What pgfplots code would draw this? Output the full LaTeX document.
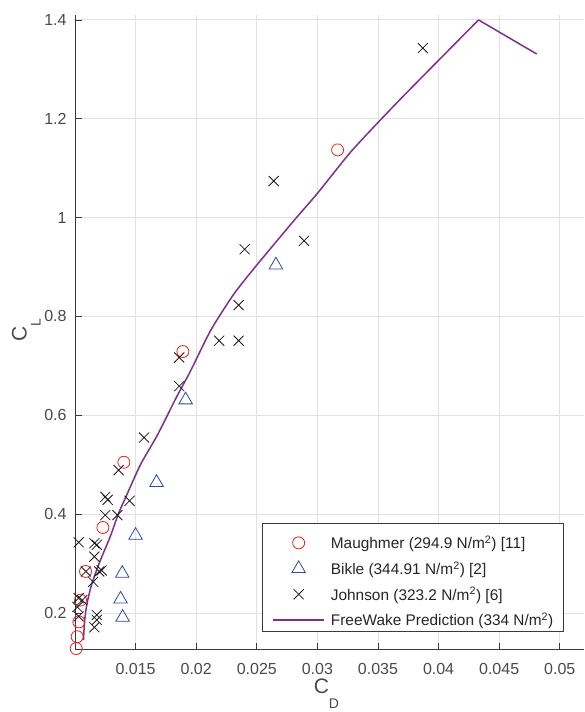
\documentclass[border=0pt]{standalone}
\usepackage{fontspec}
\setmainfont{Liberation Sans}
\usepackage{pgfplots}
\pgfplotsset{compat=1.18}

\definecolor{mred}{HTML}{FF1A1A}
\definecolor{mblue}{HTML}{2E4BA8}
\definecolor{mpurple}{HTML}{7E2F8E}
\definecolor{axgray}{HTML}{3A3A3A}
\definecolor{txtgray}{HTML}{4A4A4A}
\definecolor{gridgray}{HTML}{E2E2E2}

\pgfplotsset{
  markleg/.style={legend image code/.code={%
      \path (0pt,0pt) (51.6pt,0pt);
      \draw[##1] plot coordinates {(25.8pt,-4.15pt)};}},
  lineleg/.style={legend image code/.code={%
      \draw[##1] (0pt,-4.15pt) -- (51.6pt,-4.15pt);}},
}

\begin{document}
\begin{tikzpicture}
\begin{axis}[
  scale only axis,
  width=509pt, height=634.3pt,
  xmin=0.01, xmax=0.052,
  ymin=0.1265, ymax=1.41,
  axis lines*=left,
  axis line style={axgray, line width=0.8pt},
  tick style={axgray, line width=0.8pt},
  major tick length=6.5pt,
  tick align=inside,
  scaled x ticks=false,
  scaled y ticks=false,
  xtick={0.015,0.02,0.025,0.03,0.035,0.04,0.045,0.05},
  xticklabels={0.015,0.02,0.025,0.03,0.035,0.04,0.045,0.05},
  ytick={0.2,0.4,0.6,0.8,1,1.2,1.4},
  yticklabels={0.2,0.4,0.6,0.8,1,1.2,1.4},
  grid=major,
  major grid style={gridgray, line width=0.9pt},
  ticklabel style={font=\fontsize{16}{19}\selectfont, text=txtgray},
  xticklabel style={anchor=north, inner sep=0pt, yshift=-13.4pt},
  yticklabel style={anchor=east, inner sep=0pt, xshift=-8.3pt},
  xlabel={C\raisebox{-15pt}{\fontsize{14}{14}\selectfont D}},
  ylabel={C\raisebox{-14pt}{\fontsize{14}{14}\selectfont L}},
  label style={font=\fontsize{21}{24}\selectfont, text=txtgray},
  xlabel style={at={(axis description cs:0.494,-0.0694)}, anchor=base},
  ylabel style={at={(axis description cs:-0.0949,0.503)}, anchor=base},
  legend cell align=left,
  legend style={at={(0.3668,0.0277)}, anchor=south west,
    draw=axgray, line width=0.8pt, fill=white,
    inner xsep=10pt, inner ysep=5.7pt,
    row sep=5.8pt, column sep=5.7pt,
    font=\fontsize{15.4}{18}\selectfont,
    nodes={inner sep=0pt, text height=19.8pt, text depth=0pt, text=black!85}},
]

% Maughmer measurements
\addplot[only marks, mark=o, mark size=6pt, draw=mred, line width=0.8pt, markleg]
  coordinates {
  (0.0101,0.128) (0.01018,0.152) (0.01032,0.182) (0.01046,0.226)
  (0.01087,0.284) (0.0123,0.373) (0.01403,0.505) (0.0189,0.729)
  (0.03167,1.137)
};
\addlegendentry{Maughmer (294.9 N/m\textsuperscript{2}) [11]}

% Bikle measurements
\addplot[only marks, mark=triangle, mark size=7.8pt, draw=mblue, line width=0.8pt, markleg]
  coordinates {
  (0.01393,0.191) (0.01376,0.228) (0.0139,0.280) (0.0150,0.357)
  (0.01673,0.464) (0.01913,0.631) (0.02658,0.904) (0.0517,1.412)
};
\addlegendentry{Bikle (344.91 N/m\textsuperscript{2}) [2]}

% Johnson measurements
\addplot[only marks, mark=x, mark size=7.1pt, draw=black!90, line width=0.8pt, markleg]
  coordinates {
  (0.0103,0.343) (0.0116,0.341) (0.0118,0.338) (0.0116,0.314)
  (0.0109,0.284) (0.0120,0.284) (0.0122,0.286) (0.0115,0.263)
  (0.0103,0.230) (0.0106,0.226) (0.0102,0.212) (0.0103,0.193)
  (0.0118,0.196) (0.0118,0.186) (0.0116,0.171)
  (0.0125,0.398) (0.0135,0.398) (0.0125,0.435) (0.0127,0.429)
  (0.0145,0.427) (0.0136,0.489) (0.0157,0.555) (0.0186,0.659)
  (0.0186,0.717) (0.0219,0.751) (0.0235,0.751) (0.0235,0.823)
  (0.0240,0.936) (0.0289,0.953) (0.0264,1.074) (0.0387,1.343)
};
\addlegendentry{Johnson (323.2 N/m\textsuperscript{2}) [6]}

% FreeWake drag polar, up to the stall peak
\addplot[mpurple, line width=1.5pt, no marks, smooth, tension=0.4, lineleg]
  coordinates {
  (0.0107,0.145) (0.0108,0.186) (0.0110,0.220) (0.0114,0.260)
  (0.0121,0.307) (0.0129,0.354) (0.0136,0.402) (0.0142,0.435)
  (0.0154,0.500) (0.0168,0.560) (0.0184,0.638) (0.0195,0.688)
  (0.0212,0.772) (0.0231,0.845) (0.0250,0.904) (0.0281,0.995)
  (0.0300,1.049) (0.0329,1.137) (0.0369,1.241) (0.0433,1.400)
};
\addlegendentry{FreeWake Prediction (334 N/m\textsuperscript{2})}
% post-stall segment
\addplot[mpurple, line width=1.5pt, no marks, forget plot]
  coordinates {(0.0433,1.400) (0.0481,1.331)};

\end{axis}
\pgfresetboundingbox
\path[use as bounding box]
  ([xshift=-75pt,yshift=-62.7pt]current axis.south west)
  rectangle ([yshift=15pt]current axis.north east);
\end{tikzpicture}
\end{document}
